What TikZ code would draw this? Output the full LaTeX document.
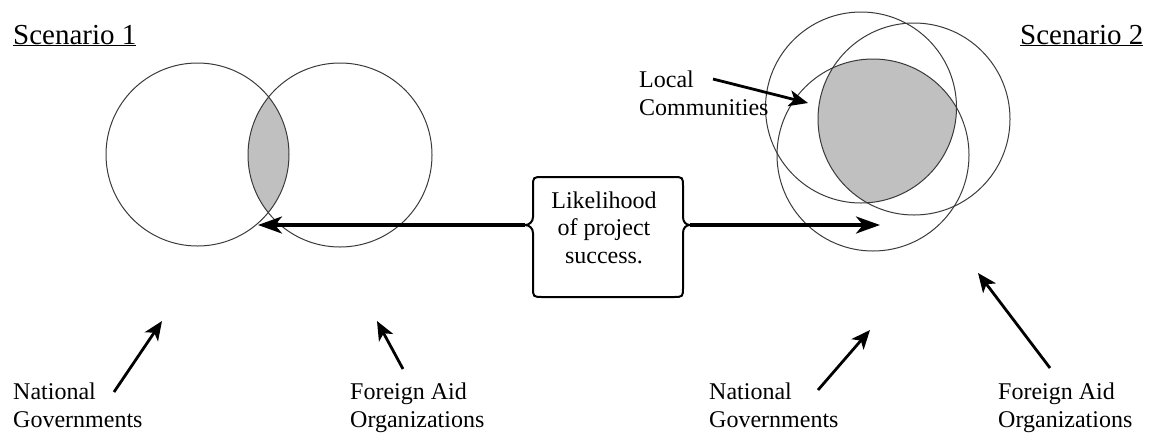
\documentclass[tikz,border=0pt]{standalone}
\usepackage{fontspec}
\setmainfont{Liberation Serif}
\usetikzlibrary{arrows.meta}
\definecolor{shadegray}{HTML}{C0C0C0}
\definecolor{ringgray}{HTML}{3A3A3A}
\begin{document}
\begin{tikzpicture}[x=1pt,y=-1pt,
  ring/.style={draw=ringgray,line width=1pt},
  lbl/.style={inner sep=0pt,anchor=base west,align=left,font=\fontsize{24}{28}\selectfont},
  ttl/.style={inner sep=0pt,anchor=base west,font=\fontsize{29}{34}\selectfont},
  boxline/.style={draw=black,line width=2pt},
  bigarrow/.style={line width=3.5pt,-{Stealth[length=24pt,width=17pt,inset=7pt]}},
  smallarrow/.style={line width=2.8pt,-{Stealth[length=19pt,width=16pt,inset=5pt]}}]
\useasboundingbox (0,0) rectangle (1155,432);

% Titles
\node[ttl] (s1) at (13,44) {\underline{Scenario 1}};
\node[ttl] (s2) at (1020,44) {\underline{Scenario 2}};

% Scenario 1 circles
\coordinate (c1) at (197.5,154.5);
\coordinate (c2) at (340,155);
\begin{scope}
  \clip (c1) circle[radius=91.5pt];
  \fill[shadegray] (c2) circle[radius=92pt];
\end{scope}
\draw[ring] (c1) circle[radius=91.5pt];
\draw[ring] (c2) circle[radius=92pt];

% Scenario 2 circles
\coordinate (d1) at (861,107.5);
\coordinate (d2) at (914,119);
\coordinate (d3) at (873,155);
\begin{scope}
  \clip (d1) circle[radius=95.5pt];
  \clip (d2) circle[radius=96pt];
  \fill[shadegray] (d3) circle[radius=96pt];
\end{scope}
\draw[ring] (d1) circle[radius=95.5pt];
\draw[ring] (d2) circle[radius=96pt];
\draw[ring] (d3) circle[radius=96pt];

% Centre box with brace-like sides
\coordinate (bl) at (525,225);
\coordinate (br) at (690,225);
\draw[boxline] (543,177) -- (673,177) .. controls (683,177) .. (683,187)
  -- (683,217) .. controls (683,222) and (686,225) .. (br)
  .. controls (686,225) and (683,228) .. (683,233)
  -- (683,287) .. controls (683,297) .. (673,297)
  -- (543,297) .. controls (533,297) .. (533,287)
  -- (533,233) .. controls (533,228) and (529,225) .. (bl)
  .. controls (529,225) and (533,222) .. (533,217)
  -- (533,187) .. controls (533,177) .. (543,177) -- cycle;
\node[inner sep=0pt,anchor=base,align=center,font=\fontsize{24}{27.5}\selectfont] (ctr) at (604,263)
  {Likelihood\\of project\\success.};

% Horizontal arrows
\coordinate (t1) at (258,225);
\coordinate (t2) at (880,225);
\draw[bigarrow] (bl) -- (t1);
\draw[bigarrow] (br) -- (t2);

% Labels
\node[lbl] (lc) at (639,115) {Local\\Communities};
\node[lbl] (ng1) at (13,427) {National\\Governments};
\node[lbl] (fa1) at (350,427) {Foreign Aid\\Organizations};
\node[lbl] (ng2) at (709,427) {National\\Governments};
\node[lbl] (fa2) at (998,427) {Foreign Aid\\Organizations};

% Label arrows
\coordinate (lcs) at (713,79);   \coordinate (lct) at (808,103);
\coordinate (ng1s) at (114,392); \coordinate (ng1t) at (162,321);
\coordinate (fa1s) at (403,369); \coordinate (fa1t) at (377,321);
\coordinate (ng2s) at (818,390); \coordinate (ng2t) at (870,330);
\coordinate (fa2s) at (1050,368); \coordinate (fa2t) at (978,273);
\draw[smallarrow] (lcs) -- (lct);
\draw[smallarrow] (ng1s) -- (ng1t);
\draw[smallarrow] (fa1s) -- (fa1t);
\draw[smallarrow] (ng2s) -- (ng2t);
\draw[smallarrow] (fa2s) -- (fa2t);
\end{tikzpicture}
\end{document}
